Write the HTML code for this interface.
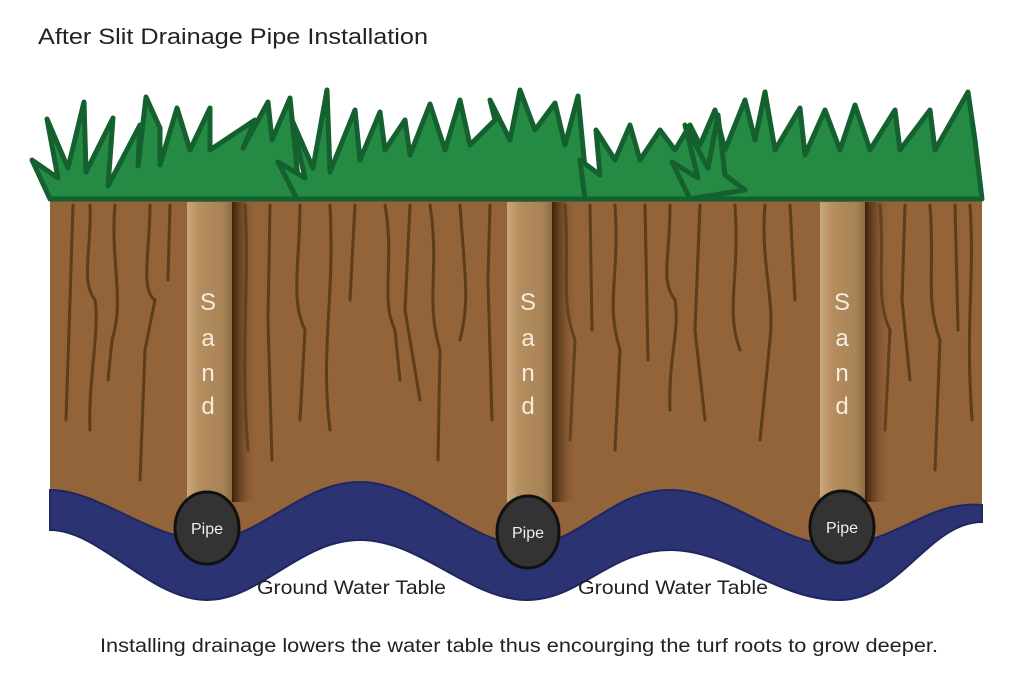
<!DOCTYPE html>
<html><head><meta charset="utf-8"><style>
html,body{margin:0;padding:0;background:#fff;width:1021px;height:693px;overflow:hidden}
svg{display:block}
text{font-family:"Liberation Sans",sans-serif}
</style></head><body>
<svg width="1021" height="693" viewBox="0 0 1021 693" xmlns="http://www.w3.org/2000/svg">
<defs>
<linearGradient id="sh" x1="0" x2="1"><stop offset="0" stop-color="#3a2008"/><stop offset="1" stop-color="#93633a" stop-opacity="0"/></linearGradient>
<linearGradient id="sand" x1="0" x2="1"><stop offset="0" stop-color="#c9a87c"/><stop offset="0.3" stop-color="#b58d5e"/><stop offset="0.8" stop-color="#a88356"/><stop offset="1" stop-color="#8d6c45"/></linearGradient>
</defs>
<text x="38" y="44" font-size="22" fill="#222" textLength="390" lengthAdjust="spacingAndGlyphs">After Slit Drainage Pipe Installation</text>
<path d="M50 200 H982 V505 C930 500 900 540 842 545 C780 548 730 490 670 490 C610 490 580 545 527 545 C470 545 420 482 360 482 C300 482 260 540 207 540 C150 540 100 490 50 490 Z" fill="#93633a"/>
<g stroke="#5c3d1c" stroke-width="3" fill="none" stroke-linecap="round">
<path d="M73 205 L70 300 L66 420"/><path d="M90 205 C92 250 80 280 95 300 C100 330 88 380 90 430"/><path d="M115 205 C110 260 125 300 112 340 L108 380"/><path d="M150 205 C150 250 140 290 155 300 L145 350 L140 480"/><path d="M170 205 L168 280"/>
<path d="M245 205 C250 280 240 350 248 450"/><path d="M270 205 L268 320 L272 460"/><path d="M300 205 C300 260 290 300 305 330 L300 420"/><path d="M330 205 C335 300 320 350 330 430"/><path d="M355 205 L350 300"/><path d="M385 205 C395 260 380 300 395 330 L400 380"/><path d="M410 205 L405 310 L420 400"/><path d="M430 205 C440 270 425 300 440 350 L438 460"/><path d="M460 205 C465 280 470 300 460 340"/><path d="M490 205 L488 280 L492 420"/>
<path d="M565 205 C570 270 560 300 575 340 L570 440"/><path d="M590 205 L592 330"/><path d="M615 205 C620 280 605 300 620 350 L615 450"/><path d="M645 205 L648 360"/><path d="M670 205 C670 260 660 280 675 300 C680 330 668 360 670 410"/><path d="M700 205 L695 330 L705 420"/><path d="M735 205 C740 280 725 310 740 350"/><path d="M765 205 C760 260 775 300 770 340 L760 440"/><path d="M790 205 L795 300"/>
<path d="M880 205 C885 260 875 300 890 330 L885 430"/><path d="M905 205 L902 300 L910 380"/><path d="M930 205 C935 270 925 300 940 340 L935 470"/><path d="M955 205 L958 330"/><path d="M970 205 C975 280 965 320 972 420"/>
</g>
<g>
<rect x="232" y="202" width="25" height="300" fill="url(#sh)"/>
<rect x="187" y="202" width="45" height="300" fill="url(#sand)"/>
<rect x="552" y="202" width="25" height="300" fill="url(#sh)"/>
<rect x="507" y="202" width="45" height="300" fill="url(#sand)"/>
<rect x="865" y="202" width="25" height="300" fill="url(#sh)"/>
<rect x="820" y="202" width="45" height="300" fill="url(#sand)"/>
</g>
<g font-size="24" fill="#f4ece0" text-anchor="middle">
<text x="208" y="310">S</text><text x="208" y="346">a</text><text x="208" y="381">n</text><text x="208" y="414">d</text>
<text x="528" y="310">S</text><text x="528" y="346">a</text><text x="528" y="381">n</text><text x="528" y="414">d</text>
<text x="842" y="310">S</text><text x="842" y="346">a</text><text x="842" y="381">n</text><text x="842" y="414">d</text>
</g>
<path d="M50 490 C100 490 150 540 207 540 C260 540 300 482 360 482 C420 482 470 545 527 545 C580 545 610 490 670 490 C730 490 780 548 842 545 C900 540 930 500 982 505 V522 C930 522 900 598 842 600 C780 602 730 550 670 550 C610 550 580 600 527 600 C470 600 420 540 360 540 C300 540 260 600 207 600 C150 600 100 530 50 530 Z" fill="#2b3373" stroke="#1f2660" stroke-width="2"/>
<g fill="#333" stroke="#111" stroke-width="3">
<ellipse cx="207" cy="528" rx="32" ry="36"/><ellipse cx="528" cy="532" rx="31" ry="36"/><ellipse cx="842" cy="527" rx="32" ry="36"/>
</g>
<g font-size="16" fill="#eee" text-anchor="middle">
<text x="207" y="534">Pipe</text><text x="528" y="538">Pipe</text><text x="842" y="533">Pipe</text>
</g>
<g fill="#258a44" stroke="#14602f" stroke-width="5" stroke-linejoin="round">
<path d="M50 199 L32 160 L58 178 L47 119 L68 168 L84 102 L86 172 L113 118 L108 186 L140 125 L138 166 L146 97 L160 128 L160 165 L177 108 L190 150 L210 108 L210 150 L255 120 L243 148 L268 102 L272 140 L290 98 L300 199 Z"/>
<path d="M297 199 L278 162 L305 178 L292 120 L313 168 L327 90 L330 172 L355 110 L360 160 L380 112 L385 150 L405 120 L410 155 L430 104 L445 150 L460 100 L470 145 L495 120 L490 100 L510 140 L520 90 L535 130 L555 103 L565 145 L578 96 L588 199 Z"/>
<path d="M585 199 L580 160 L600 175 L596 130 L615 160 L630 125 L640 160 L660 130 L675 150 L690 125 L700 145 L715 110 L725 150 L745 100 L755 140 L765 92 L775 150 L800 108 L805 155 L825 110 L840 150 L855 105 L870 150 L895 110 L900 150 L930 110 L935 150 L968 92 L975 140 L982 199 Z"/>
<path d="M690 199 L672 162 L698 178 L685 125 L708 168 L718 115 L725 175 L745 190 Z"/>
</g>
<text x="257" y="594" font-size="19" fill="#222" textLength="189" lengthAdjust="spacingAndGlyphs">Ground Water Table</text>
<text x="578" y="594" font-size="19" fill="#222" textLength="190" lengthAdjust="spacingAndGlyphs">Ground Water Table</text>
<text x="100" y="652" font-size="19" fill="#222" textLength="838" lengthAdjust="spacingAndGlyphs">Installing drainage lowers the water table thus encourging the turf roots to grow deeper.</text>
</svg>
</body></html>
